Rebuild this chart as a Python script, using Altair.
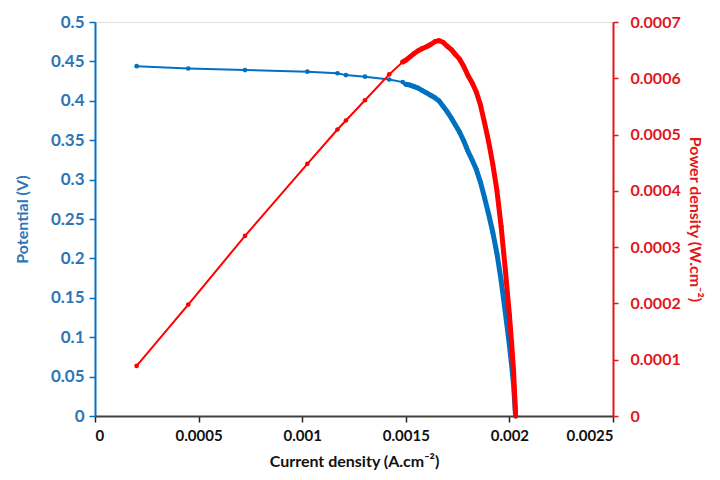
import altair as alt
import pandas as pd

# Current density (A/cm2)
current = [0.000201, 0.00045, 0.000724, 0.001025, 0.00117, 0.001211, 0.001303, 0.00142, 0.001485,
           0.00150, 0.00152, 0.00154, 0.00156, 0.00158, 0.00160, 0.00162, 0.00164, 0.00166,
           0.00168, 0.00170, 0.00172, 0.00174, 0.00176, 0.00178, 0.00180, 0.00182, 0.00184,
           0.00186, 0.00188, 0.00190, 0.00192, 0.00194, 0.00196, 0.00198, 0.00200, 0.00201,
           0.00202, 0.00203]
# Potential (V)
potential = [0.444, 0.441, 0.439, 0.437, 0.435, 0.4326, 0.4306, 0.427, 0.4237,
             0.421, 0.420, 0.418, 0.416, 0.413, 0.410, 0.407, 0.404, 0.400,
             0.393, 0.386, 0.378, 0.369, 0.360, 0.349, 0.336, 0.325, 0.313,
             0.297, 0.277, 0.256, 0.233, 0.206, 0.172, 0.132, 0.090, 0.066,
             0.040, 0.0]
# Power density (W/cm2)
power = [0.000089, 0.000198, 0.000320, 0.000448, 0.000509, 0.000525, 0.000561, 0.000607, 0.000629,
         0.000632, 0.000638, 0.000644, 0.000649, 0.000653, 0.000656, 0.000660, 0.000665, 0.000667,
         0.000664, 0.000657, 0.000651, 0.000642, 0.000634, 0.000621, 0.000605, 0.000592, 0.000576,
         0.000553, 0.000521, 0.000487, 0.000447, 0.000400, 0.000337, 0.000261, 0.000180, 0.000133,
         0.000081, 0.0]

x_ticks = [0, 0.0005, 0.001, 0.0015, 0.002, 0.0025]
v_ticks = [0, 0.05, 0.1, 0.15, 0.2, 0.25, 0.3, 0.35, 0.4, 0.45, 0.5]
p_ticks = [0, 0.0001, 0.0002, 0.0003, 0.0004, 0.0005, 0.0006, 0.0007]

df = pd.DataFrame({"I": current, "V": potential, "P": power})

BLUE_LINE = "#0070C0"
BLUE_TXT = "#2E75B6"
RED_LINE = "#FF0000"
RED_TXT = "#E3161B"
FONT = "Lato"

x = alt.X(
    "I:Q",
    scale=alt.Scale(domain=[0, 0.0025], nice=False),
    axis=alt.Axis(
        title="Current density (A.cm⁻²)", values=x_ticks, format="~g", grid=False,
        domainColor="#404040", domainWidth=2, tickColor="#222222", tickSize=6, tickWidth=1.5,
        labelColor="#111111", labelFont=FONT, labelFontSize=15, labelFontWeight="bold",
        labelPadding=6, titleFont=FONT, titleFontSize=16, titleFontWeight="bold",
        titleColor="#111111", titlePadding=10,
    ),
)

y_v = alt.Y(
    "V:Q",
    scale=alt.Scale(domain=[0, 0.5], nice=False),
    axis=alt.Axis(
        orient="left", title="Potential (V)", values=v_ticks, format="~g", grid=False,
        domainColor=BLUE_LINE, domainWidth=2, tickColor=BLUE_LINE, tickSize=6, tickWidth=1.5,
        labelColor=BLUE_TXT, labelFont=FONT, labelFontSize=17, labelFontWeight="bold",
        labelPadding=5, titleFont=FONT, titleFontSize=16, titleFontWeight="bold",
        titleColor=BLUE_TXT, titlePadding=20,
    ),
)

y_p = alt.Y(
    "P:Q",
    scale=alt.Scale(domain=[0, 0.0007], nice=False),
    axis=alt.Axis(
        orient="right", title="Power density (W.cm⁻²)", values=p_ticks, format="~g", grid=False,
        domainColor=RED_TXT, domainWidth=2, tickColor=RED_TXT, tickSize=5, tickWidth=1.5,
        labelColor=RED_TXT, labelFont=FONT, labelFontSize=16, labelFontWeight="bold",
        labelPadding=12, titleFont=FONT, titleFontSize=16, titleFontWeight="bold",
        titleColor=RED_TXT, titlePadding=6,
    ),
)

base = alt.Chart(df)

blue = base.mark_line(
    color=BLUE_LINE, strokeWidth=2,
    point=alt.OverlayMarkDef(color=BLUE_LINE, filled=True, size=22, opacity=1),
).encode(x=x, y=y_v)
blue_dense = base.transform_filter("datum.I >= 0.0015").mark_line(
    color=BLUE_LINE, strokeWidth=5, strokeCap="round", strokeJoin="round",
).encode(x=x, y=y_v)

red = base.mark_line(
    color=RED_LINE, strokeWidth=2,
    point=alt.OverlayMarkDef(color=RED_LINE, filled=True, size=22, opacity=1),
).encode(x=x, y=y_p)
red_dense = base.transform_filter("datum.I >= 0.00148").mark_line(
    color=RED_LINE, strokeWidth=5, strokeCap="round", strokeJoin="round",
).encode(x=x, y=y_p)

left = alt.layer(blue, blue_dense)
right = alt.layer(red, red_dense)

chart = alt.layer(left, right).resolve_scale(y="independent").properties(
    width=518, height=394,
    autosize=alt.AutoSizeParams(type="none"),
    padding={"left": 87, "top": 14, "right": 99, "bottom": 56},
).configure_view(stroke=None).configure(background="white")

chart.save("out.html", embed_options={"renderer": "svg", "actions": False})
